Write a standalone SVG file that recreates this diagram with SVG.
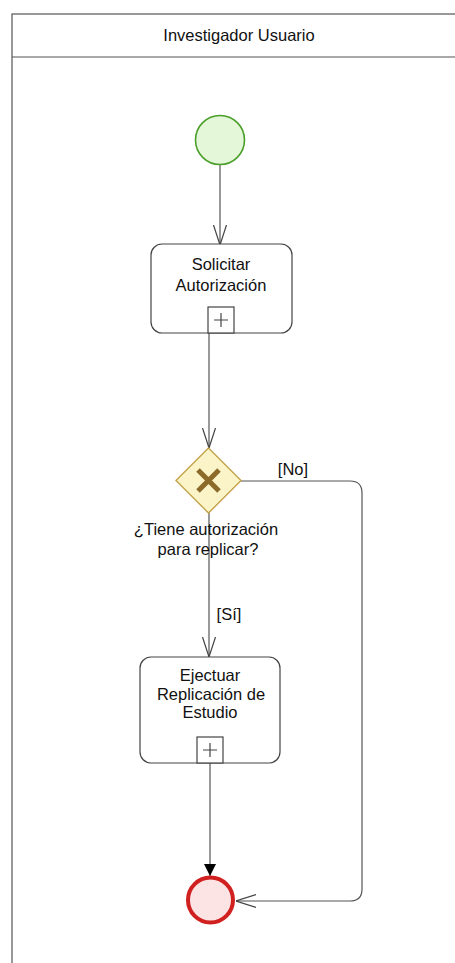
<svg xmlns="http://www.w3.org/2000/svg" width="455" height="963" viewBox="0 0 455 963">
  <style>
    .lane { fill: #ffffff; stroke: #555555; stroke-width: 1.2; }
    .label { font-family: "Liberation Sans", Arial, sans-serif; font-size: 16.5px; fill: #111111; text-anchor: middle; }
    .task { fill: #ffffff; stroke: #444444; stroke-width: 1.2; }
    .marker-box { fill: #ffffff; stroke: #444444; stroke-width: 1.2; }
    .flow { fill: none; stroke: #555555; stroke-width: 1.2; }
  </style>
  <defs>
    <marker id="open-arrow" viewBox="0 0 20 20" refX="20" refY="10" markerWidth="20" markerHeight="20" markerUnits="userSpaceOnUse" orient="auto">
      <path d="M0,3.5 L20,10 L0,16.5" fill="none" stroke="#444444" stroke-width="1.2"/>
    </marker>
    <marker id="solid-arrow" viewBox="0 0 12 12" refX="12" refY="6" markerWidth="12" markerHeight="12" markerUnits="userSpaceOnUse" orient="auto">
      <path d="M0,0 L12,6 L0,12 Z" fill="#000000"/>
    </marker>
  </defs>

  <rect width="455" height="963" fill="#ffffff"/>

  <!-- swimlane -->
  <g id="lane">
    <rect class="lane" x="12" y="14" width="460" height="970"/>
    <line x1="12" y1="57" x2="455" y2="57" stroke="#555555" stroke-width="1.2"/>
    <text class="label" x="239" y="41">Investigador Usuario</text>
  </g>

  <!-- sequence flows -->
  <g id="connectors">
    <path class="flow" d="M220,165 L220,245" marker-end="url(#open-arrow)"/>
    <path class="flow" d="M209,333 L209,448" marker-end="url(#open-arrow)"/>
    <path class="flow" d="M209,512 L209,657" marker-end="url(#open-arrow)"/>
    <path class="flow" d="M210,763 L210,876" stroke="#333333" marker-end="url(#solid-arrow)"/>
    <path class="flow" d="M241,481 L350,481 Q362,481 362,493 L362,889 Q362,901 350,901 L236,901" marker-end="url(#open-arrow)"/>
    <text class="label" x="293" y="475">[No]</text>
    <text class="label" x="229" y="620">[Sí]</text>
  </g>

  <g id="start">
    <circle cx="220" cy="140" r="24.5" fill="#e4f7d8" stroke="#4a9e2a" stroke-width="1.6"/>
  </g>

  <g id="solicitar-autorizacion">
    <rect class="task" x="151" y="244" width="141" height="89" rx="11"/>
    <text class="label" x="221" y="270">Solicitar</text>
    <text class="label" x="221" y="291">Autorización</text>
    <rect class="marker-box" x="208" y="307" width="26" height="26"/>
    <path d="M214,320 H228 M221,313 V327" stroke="#444444" stroke-width="1.2"/>
  </g>

  <g id="gateway">
    <path d="M208.5,448 L241,480.5 L208.5,513 L176,480.5 Z" fill="#fbf4c8" stroke="#c4a24a" stroke-width="1.4"/>
    <path d="M198,470 L219,491 M219,470 L198,491" stroke="#8c6b2a" stroke-width="5" stroke-linecap="butt"/>
    <text class="label" x="206" y="535">¿Tiene autorización</text>
    <text class="label" x="208" y="555">para replicar?</text>
  </g>

  <g id="ejecutar-replicacion">
    <rect class="task" x="140" y="657" width="140" height="106" rx="11"/>
    <text class="label" x="210" y="681">Ejectuar</text>
    <text class="label" x="211" y="699.5">Replicación de</text>
    <text class="label" x="210" y="718">Estudio</text>
    <rect class="marker-box" x="197" y="737" width="26" height="26"/>
    <path d="M203,750 H217 M210,743 V757" stroke="#444444" stroke-width="1.2"/>
  </g>

  <g id="end">
    <circle cx="210.5" cy="900" r="22.5" fill="#fde4e4" stroke="#d02020" stroke-width="4"/>
  </g>
</svg>
